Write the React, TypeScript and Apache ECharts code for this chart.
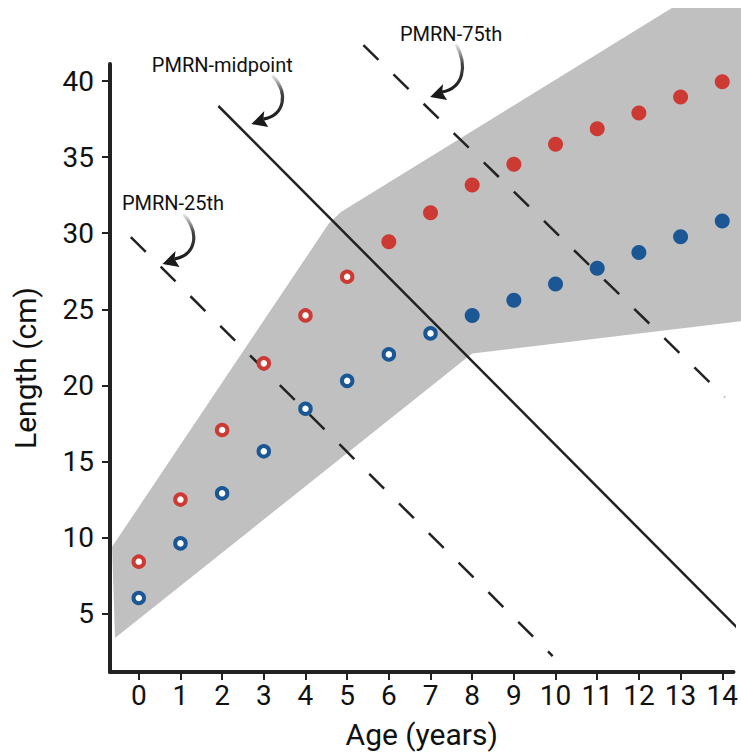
import React, { useEffect, useRef } from "react";
import * as echarts from "echarts";

// ---- data ----
const ages = [0, 1, 2, 3, 4, 5, 6, 7, 8, 9, 10, 11, 12, 13, 14];
const redLength = [8.42, 12.5, 17.07, 21.45, 24.6, 27.14, 29.44, 31.35, 33.17, 34.53, 35.84, 36.87, 37.9, 38.95, 39.96];
const blueLength = [6.03, 9.62, 12.91, 15.67, 18.47, 20.3, 22.04, 23.42, 24.6, 25.6, 26.66, 27.7, 28.74, 29.77, 30.8];
const redLastOpenAge = 5;
const blueLastOpenAge = 7;

const xTicks = [0, 1, 2, 3, 4, 5, 6, 7, 8, 9, 10, 11, 12, 13, 14];
const yTicks = [5, 10, 15, 20, 25, 30, 35, 40];

// grey envelope (polygon vertices)
const bandAge = [-0.57, -0.64, 4.55, 4.85, 12.79, 14.6, 14.6, 8.0];
const bandLength = [3.4, 9.4, 30.6, 31.4, 44.8, 44.8, 24.27, 22.1];

// PMRN lines (end points)
const pmrnMidAge = [1.91, 14.5];
const pmrnMidLength = [38.36, 3.69];
const pmrn25Age = [-0.19, 9.93];
const pmrn25Length = [29.75, 2.22];
const pmrn75Age = [5.39, 14.06];
const pmrn75Length = [42.36, 19.24];

// annotations
const annotationLabels = ["PMRN-midpoint", "PMRN-25th", "PMRN-75th"];
const annotationTipAge = [2.7, 0.57, 6.99];
const annotationTipLength = [37.17, 27.98, 38.95];

const RED = "#cc3a33";
const BLUE = "#1a5794";
const INK = "#222222";
const FONT = "Roboto";

function pts(xs: number[], ys: number[]) {
  return xs.map((x, i) => [x, ys[i]]);
}

export default function App() {
  const ref = useRef<HTMLDivElement>(null);

  useEffect(() => {
    document.body.style.margin = "0";
    const chart = echarts.init(ref.current!, undefined, { renderer: "svg" });

    const redOpen = ages.filter((a) => a <= redLastOpenAge).map((a) => [a, redLength[a]]);
    const redFilled = ages.filter((a) => a > redLastOpenAge).map((a) => [a, redLength[a]]);
    const blueOpen = ages.filter((a) => a <= blueLastOpenAge).map((a) => [a, blueLength[a]]);
    const blueFilled = ages.filter((a) => a > blueLastOpenAge).map((a) => [a, blueLength[a]]);

    const lineSeries = (data: number[][], dashed: boolean) => ({
      type: "line",
      data,
      showSymbol: false,
      symbol: "none",
      clip: false,
      z: 3,
      lineStyle: {
        color: INK,
        width: 2.5,
        type: dashed ? [21, 21] : "solid",
        cap: "butt",
      },
    });

    const option: any = {
      animation: false,
      grid: { left: 110, right: 4, top: 64, bottom: 84 },
      xAxis: {
        type: "value",
        min: -0.69,
        max: 14.27,
        name: "Age (years)",
        nameLocation: "middle",
        nameGap: 47,
        nameTextStyle: { fontSize: 30, fontFamily: FONT, color: "#111" },
        axisLine: { show: true, onZero: false, lineStyle: { color: INK, width: 4 } },
        axisTick: { show: true, customValues: xTicks, length: 8, lineStyle: { color: INK, width: 2 } },
        axisLabel: { customValues: xTicks, fontSize: 28, fontFamily: FONT, color: "#111", margin: 9 },
        splitLine: { show: false },
      },
      yAxis: {
        type: "value",
        min: 1.17,
        max: 41.12,
        name: "Length (cm)",
        nameLocation: "middle",
        nameGap: 70,
        nameTextStyle: { fontSize: 30, fontFamily: FONT, color: "#111" },
        axisLine: { show: true, onZero: false, lineStyle: { color: INK, width: 4 } },
        axisTick: { show: true, customValues: yTicks, length: 8, lineStyle: { color: INK, width: 2 } },
        axisLabel: { customValues: yTicks, fontSize: 28, fontFamily: FONT, color: "#111", margin: 16 },
        splitLine: { show: false },
      },
      series: [
        {
          type: "custom",
          clip: false,
          z: 1,
          data: [[0, 0]],
          renderItem: (_p: any, api: any) => ({
            type: "polygon",
            shape: { points: bandAge.map((x, i) => api.coord([x, bandLength[i]])) },
            style: { fill: "#c0c0c0" },
          }),
        },
        lineSeries(pts(pmrnMidAge, pmrnMidLength), false),
        lineSeries(pts(pmrn25Age, pmrn25Length), true),
        lineSeries(pts(pmrn75Age, pmrn75Length), true),
        {
          type: "scatter",
          data: redOpen,
          z: 5,
          symbolSize: 10.5,
          itemStyle: { color: "#ffffff", borderColor: RED, borderWidth: 4, opacity: 1 },
        },
        {
          type: "scatter",
          data: redFilled,
          z: 5,
          symbolSize: 15,
          itemStyle: { color: RED, opacity: 1 },
        },
        {
          type: "scatter",
          data: blueOpen,
          z: 5,
          symbolSize: 10.5,
          itemStyle: { color: "#ffffff", borderColor: BLUE, borderWidth: 4, opacity: 1 },
        },
        {
          type: "scatter",
          data: blueFilled,
          z: 5,
          symbolSize: 15,
          itemStyle: { color: BLUE, opacity: 1 },
        },
      ],
    };
    chart.setOption(option);

    // annotation layout (pixel offsets relative to arrow tip)
    const labelOffset = [
      [-29, -59],
      [10.5, -61],
      [21, -63],
    ];
    const curveStart = [
      [21, -49],
      [21, -50],
      [26, -53],
    ];
    const graphics: any[] = [];
    annotationLabels.forEach((label, i) => {
      const tip = chart.convertToPixel({ gridIndex: 0 }, [annotationTipAge[i], annotationTipLength[i]]) as number[];
      const [tx, ty] = tip;
      graphics.push({
        type: "text",
        x: tx + labelOffset[i][0],
        y: ty + labelOffset[i][1],
        z: 10,
        style: {
          text: label,
          fontSize: 20,
          fontFamily: FONT,
          fill: "#111",
          align: "center",
          verticalAlign: "middle",
        },
      });
      graphics.push({
        type: "bezierCurve",
        z: 10,
        shape: {
          x1: tx + curveStart[i][0],
          y1: ty + curveStart[i][1],
          cpx1: tx + 38,
          cpy1: ty - 30,
          cpx2: tx + 33,
          cpy2: ty - 9,
          x2: tx + 12,
          y2: ty - 5,
        },
        style: {
          fill: null,
          lineWidth: 3.2,
          stroke: new echarts.graphic.LinearGradient(0, 0, 0, 1, [
            { offset: 0, color: "#eeeeee" },
            { offset: 0.4, color: "#444444" },
            { offset: 1, color: "#1a1a1a" },
          ]),
        },
      });
      graphics.push({
        type: "polygon",
        z: 10,
        shape: {
          points: [
            [tx, ty],
            [tx + 13, ty - 13],
            [tx + 12, ty - 5],
            [tx + 17, ty + 3],
          ],
        },
        style: { fill: "#1a1a1a" },
      });
    });
    chart.setOption({ graphic: graphics });

    return () => chart.dispose();
  }, []);

  return (
    <div
      ref={ref}
      style={{ position: "absolute", left: 0, top: 0, width: 741, height: 756 }}
    />
  );
}
